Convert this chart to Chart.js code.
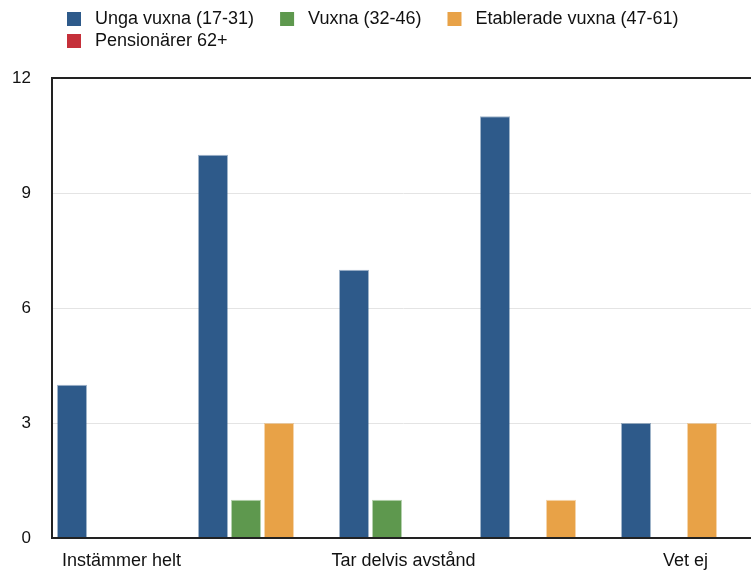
<!DOCTYPE html>
<html>
<head>
<meta charset="utf-8">
<script src="https://cdn.jsdelivr.net/npm/chart.js@4"></script>
<style>
  html, body { margin: 0; padding: 0; background: #fff; overflow: hidden; }
</style>
</head>
<body>
<canvas id="chart" width="757" height="572"></canvas>
<script>
const categories = ['Instämmer helt', 'Instämmer delvis', 'Tar delvis avstånd', 'Tar helt avstånd', 'Vet ej'];
const seriesNames = ['Unga vuxna (17-31)', 'Vuxna (32-46)', 'Etablerade vuxna (47-61)', 'Pensionärer 62+'];
const ungaVuxna = [4, 10, 7, 11, 3];
const vuxna = [0, 1, 1, 0, 0];
const etableradeVuxna = [0, 3, 0, 1, 3];
const pensionarer = [0, 0, 0, 0, 0];
const yTicks = [0, 3, 6, 9, 12];

const colors = ['#2e5a8a', '#5e984e', '#e8a247', '#c5303a'];
const edges = ['rgba(46,90,138,0.45)', 'rgba(94,152,78,0.45)', 'rgba(232,162,71,0.45)', 'rgba(197,48,58,0.45)'];
const FONT = '"Liberation Sans", Arial, Helvetica, sans-serif';

// legend drawn by hand so the spacing matches the original
const topLegend = {
    id: 'topLegend',
    afterDraw(chart) {
        const ctx = chart.ctx;
        ctx.save();
        ctx.font = '18px ' + FONT;
        ctx.textBaseline = 'middle';
        let x = 67, y = 12;
        chart.data.datasets.forEach((ds) => {
            const w = 28 + ctx.measureText(ds.label).width;
            if (x + w > chart.width - 20) {
                x = 67;
                y += 22;
            }
            ctx.fillStyle = ds.backgroundColor;
            ctx.fillRect(x, y, 14, 14);
            ctx.fillStyle = '#111';
            ctx.fillText(ds.label, x + 28, y + 7.5);
            x += w + 26;
        });
        ctx.restore();
    }
};

const frame = {
    id: 'frame',
    afterDraw(chart) {
        const {ctx, chartArea: a} = chart;
        ctx.save();
        ctx.strokeStyle = '#222';
        ctx.lineWidth = 2;
        ctx.beginPath();
        ctx.moveTo(a.right, a.top);
        ctx.lineTo(a.left + 1, a.top);
        ctx.lineTo(a.left + 1, a.bottom);
        ctx.lineTo(a.right, a.bottom);
        ctx.stroke();
        ctx.restore();
    }
};

const seriesData = [ungaVuxna, vuxna, etableradeVuxna, pensionarer];

new Chart(document.getElementById('chart'), {
    type: 'bar',
    data: {
        labels: categories,
        datasets: seriesNames.map((name, i) => ({
            label: name,
            data: seriesData[i],
            backgroundColor: colors[i],
            borderColor: edges[i],
            borderWidth: 1,
            categoryPercentage: 0.936,
            barPercentage: 0.91
        }))
    },
    options: {
        responsive: false,
        animation: false,
        layout: {
            padding: { top: 78, right: 1, left: 0, bottom: 0 }
        },
        plugins: {
            legend: { display: false },
            tooltip: { enabled: false }
        },
        scales: {
            x: {
                grid: { display: false },
                border: { display: false },
                ticks: {
                    autoSkip: false,
                    maxRotation: 0,
                    padding: 4,
                    color: '#111',
                    font: { family: FONT, size: 18 },
                    callback: (val, i) => (i % 2 === 0 ? categories[i] : '')
                },
                afterFit(scale) { scale.height = 34; }
            },
            y: {
                min: yTicks[0],
                max: yTicks[yTicks.length - 1],
                afterBuildTicks(scale) {
                    scale.ticks = yTicks.map((v) => ({ value: v }));
                },
                grid: { color: '#e4e4e4', drawTicks: false },
                border: { display: false },
                ticks: {
                    padding: 20,
                    color: '#111',
                    font: { family: FONT, size: 17 }
                },
                afterFit(scale) { scale.width = 51; }
            }
        }
    },
    plugins: [topLegend, frame]
});
</script>
</body>
</html>
